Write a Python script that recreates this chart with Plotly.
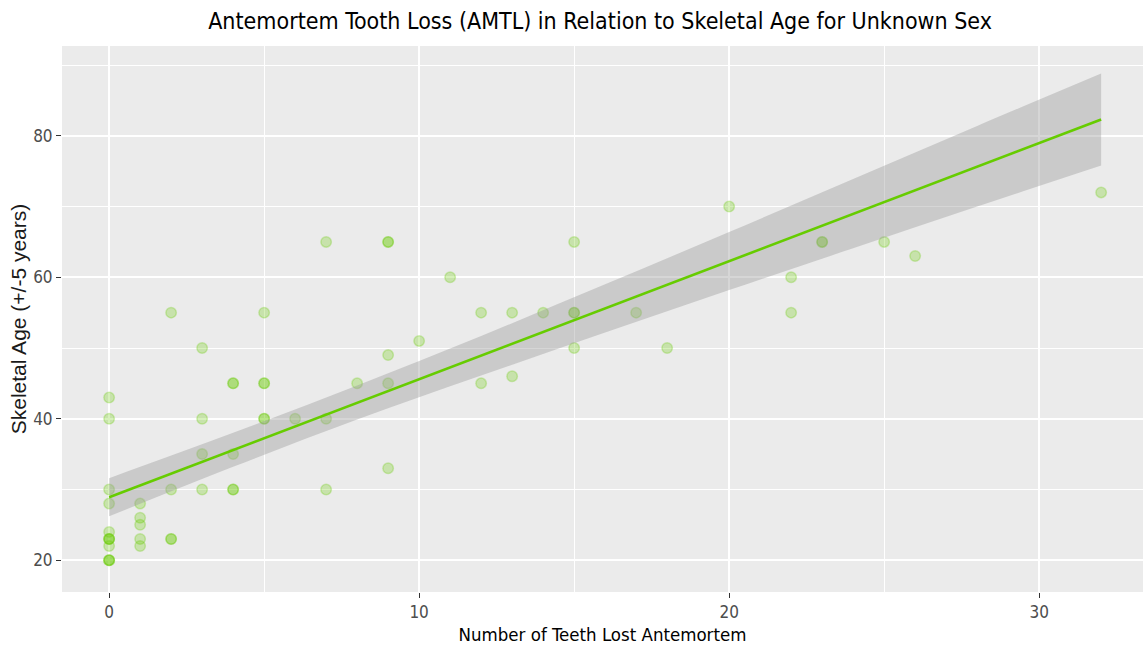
import plotly.graph_objects as go

# Teeth lost antemortem (x) and skeletal age estimate (y) per individual
teeth_lost = [0, 0, 0, 0, 0, 0, 0, 0, 0, 0, 0, 0,
              1, 1, 1, 1, 1,
              2, 2, 2, 2,
              3, 3, 3, 3,
              4, 4, 4, 4, 4,
              5, 5, 5, 5, 5,
              6,
              7, 7, 7,
              8,
              9, 9, 9, 9, 9,
              10, 11, 12, 12, 13, 13, 14,
              15, 15, 15, 15,
              17, 18, 20, 22, 22, 23, 23, 25, 26, 32]
skeletal_age = [43, 40, 30, 28, 24, 23, 23, 23, 22, 20, 20, 20,
                28, 26, 25, 23, 22,
                55, 30, 23, 23,
                50, 40, 35, 30,
                45, 45, 35, 30, 30,
                55, 45, 45, 40, 40,
                40,
                65, 40, 30,
                45,
                65, 65, 49, 45, 33,
                51, 60, 55, 45, 55, 46, 55,
                65, 55, 55, 50,
                55, 50, 70, 60, 55, 65, 65, 65, 63, 72]

# Linear trend and its confidence band
trend_x = [0, 32]
trend_y = [28.9, 82.3]
band_x = [0, 4, 8, 12, 16, 20, 24, 28, 32]
band_upper = [31.6, 38.0, 44.7, 51.7, 59.0, 66.4, 73.9, 81.4, 88.8]
band_lower = [26.2, 33.2, 39.9, 46.1, 52.2, 58.2, 64.1, 70.0, 75.8]

x_ticks = [0, 10, 20, 30]
y_ticks = [20, 40, 60, 80]

GREEN = "#66CC00"
NARROW = "Liberation Sans Narrow, Arial Narrow, DejaVu Sans Condensed, Liberation Sans, sans-serif"
REGULAR = "Liberation Sans, Arial, sans-serif"

fig = go.Figure()

fig.add_trace(go.Scatter(
    x=teeth_lost, y=skeletal_age, mode="markers",
    marker=dict(size=10.5, color="rgba(102,204,0,0.27)",
                line=dict(color="rgba(102,204,0,0.27)", width=1.5)),
    showlegend=False, hoverinfo="x+y"))

fig.add_trace(go.Scatter(
    x=band_x, y=band_lower, mode="lines", line=dict(width=0, shape="spline"),
    showlegend=False, hoverinfo="skip"))
fig.add_trace(go.Scatter(
    x=band_x, y=band_upper, mode="lines", line=dict(width=0, shape="spline"),
    fill="tonexty", fillcolor="rgba(153,153,153,0.4)",
    showlegend=False, hoverinfo="skip"))

fig.add_trace(go.Scatter(
    x=trend_x, y=trend_y, mode="lines",
    line=dict(color=GREEN, width=2.6),
    showlegend=False, hoverinfo="skip"))

axis_common = dict(
    showgrid=True, gridcolor="white", gridwidth=1.6,
    zeroline=False, showline=False,
    ticks="outside", ticklen=5, tickwidth=1, tickcolor="#333333",
    tickfont=dict(family=NARROW, size=17, color="#4D4D4D"),
)

fig.update_layout(
    width=1143, height=654,
    margin=dict(l=62, r=0, t=46, b=62),
    paper_bgcolor="white", plot_bgcolor="#EBEBEB",
    title=dict(text="Antemortem Tooth Loss (AMTL) in Relation to Skeletal Age for Unknown Sex",
               x=0.525, xanchor="center", y=0.968, yanchor="middle",
               font=dict(family=NARROW, size=23, color="black")),
    xaxis=dict(range=[-1.52, 33.35], tickvals=x_ticks,
               minor=dict(dtick=5, tick0=0, showgrid=True, gridcolor="white", gridwidth=0.8),
               title=dict(text="Number of Teeth Lost Antemortem", standoff=6,
                          font=dict(family=NARROW, size=18.5, color="black")),
               **axis_common),
    yaxis=dict(range=[15.5, 92.7], tickvals=y_ticks,
               minor=dict(dtick=10, tick0=0, showgrid=True, gridcolor="white", gridwidth=0.8),
               title=dict(text="Skeletal Age (+/-5 years)", standoff=0,
                          font=dict(family=REGULAR, size=21, color="#1A1A1A")),
               **axis_common),
)

fig.write_html("out.html")
